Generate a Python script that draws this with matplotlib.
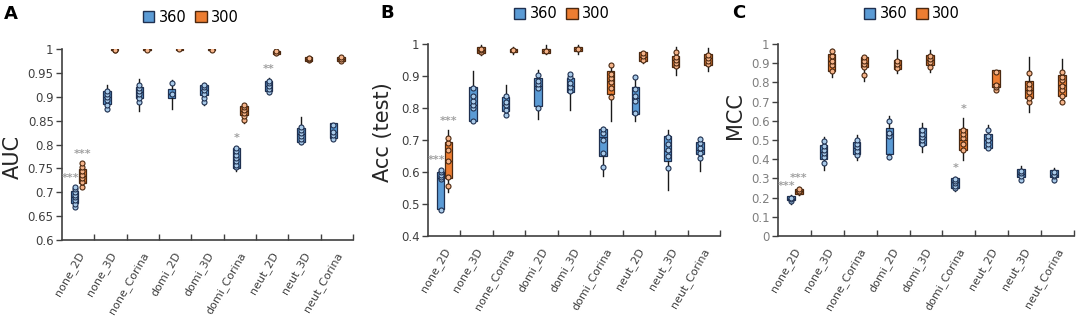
import numpy as np
import matplotlib
matplotlib.use("Agg")
import matplotlib.pyplot as plt
from matplotlib.patches import Patch

# ── Data ────────────────────────────────────────────────────────────────────
CATEGORIES = ["none_2D", "none_3D", "none_Corina", "domi_2D", "domi_3D",
              "domi_Corina", "neut_2D", "neut_3D", "neut_Corina"]
GROUPS = ["360", "300"]

# box summaries: (whisker low, q1, median, q3, whisker high)
auc_360_stats = [(0.668, 0.678, 0.690, 0.703, 0.712), (0.871, 0.885, 0.900, 0.913, 0.925),
                 (0.871, 0.897, 0.910, 0.921, 0.937), (0.874, 0.897, 0.905, 0.916, 0.935),
                 (0.883, 0.904, 0.914, 0.925, 0.929), (0.745, 0.751, 0.770, 0.792, 0.795),
                 (0.906, 0.911, 0.922, 0.934, 0.940), (0.801, 0.806, 0.822, 0.835, 0.858),
                 (0.809, 0.814, 0.826, 0.844, 0.846)]
auc_300_stats = [(0.710, 0.720, 0.735, 0.748, 0.762), (0.996, 0.997, 0.998, 0.999, 1.000),
                 (0.996, 0.997, 0.998, 0.999, 1.000), (0.998, 0.9985, 0.999, 0.9995, 1.000),
                 (0.996, 0.997, 0.998, 0.999, 1.000), (0.846, 0.862, 0.870, 0.881, 0.884),
                 (0.988, 0.990, 0.993, 0.996, 0.997), (0.973, 0.975, 0.979, 0.983, 0.985),
                 (0.973, 0.975, 0.979, 0.983, 0.985)]
auc_360_pts = [[0.670, 0.676, 0.683, 0.690, 0.694, 0.700, 0.706, 0.712],
               [0.875, 0.882, 0.893, 0.900, 0.905, 0.912],
               [0.888, 0.897, 0.905, 0.912, 0.918, 0.925],
               [0.905, 0.928],
               [0.890, 0.898, 0.906, 0.914, 0.920, 0.925],
               [0.752, 0.758, 0.765, 0.772, 0.779, 0.786, 0.792],
               [0.910, 0.916, 0.922, 0.928, 0.934],
               [0.805, 0.812, 0.818, 0.824, 0.830, 0.836],
               [0.812, 0.820, 0.826, 0.840]]
auc_300_pts = [[0.712, 0.722, 0.730, 0.737, 0.744, 0.752, 0.762],
               [0.997, 0.998], [0.998], [0.999], [0.998],
               [0.852, 0.860, 0.866, 0.872, 0.878, 0.882],
               [0.992, 0.995], [0.976, 0.979, 0.982], [0.975, 0.979, 0.983]]

acc_360_stats = [(0.479, 0.485, 0.580, 0.601, 0.610), (0.758, 0.758, 0.810, 0.865, 0.917),
                 (0.776, 0.790, 0.810, 0.833, 0.872), (0.766, 0.805, 0.870, 0.894, 0.920),
                 (0.793, 0.850, 0.870, 0.894, 0.909), (0.586, 0.651, 0.710, 0.735, 0.742),
                 (0.758, 0.782, 0.830, 0.867, 0.899), (0.544, 0.633, 0.665, 0.711, 0.730),
                 (0.604, 0.656, 0.670, 0.693, 0.708)]
acc_300_stats = [(0.538, 0.582, 0.635, 0.695, 0.730), (0.967, 0.973, 0.980, 0.990, 0.998),
                 (0.970, 0.975, 0.980, 0.985, 0.990), (0.968, 0.972, 0.978, 0.985, 0.998),
                 (0.970, 0.977, 0.985, 0.992, 0.998), (0.758, 0.843, 0.885, 0.916, 0.937),
                 (0.940, 0.946, 0.960, 0.975, 0.975), (0.904, 0.928, 0.950, 0.964, 0.990),
                 (0.916, 0.933, 0.955, 0.970, 0.987)]
acc_360_pts = [[0.482, 0.578, 0.585, 0.592, 0.600, 0.606],
               [0.760, 0.800, 0.810, 0.822, 0.838, 0.862],
               [0.778, 0.795, 0.808, 0.820, 0.838],
               [0.800, 0.862, 0.875, 0.885, 0.902],
               [0.852, 0.865, 0.878, 0.896, 0.905],
               [0.617, 0.660, 0.700, 0.722, 0.735],
               [0.785, 0.822, 0.838, 0.858, 0.896],
               [0.614, 0.650, 0.668, 0.688, 0.710],
               [0.645, 0.660, 0.675, 0.690, 0.704]]
acc_300_pts = [[0.555, 0.585, 0.635, 0.668, 0.690, 0.706],
               [0.975, 0.980, 0.985], [0.980], [0.978], [0.985],
               [0.835, 0.862, 0.880, 0.895, 0.905, 0.935],
               [0.950, 0.962, 0.972],
               [0.930, 0.940, 0.950, 0.960, 0.975],
               [0.938, 0.948, 0.955, 0.965]]

mcc_360_stats = [(0.169, 0.187, 0.195, 0.206, 0.213), (0.343, 0.401, 0.440, 0.474, 0.517),
                 (0.395, 0.425, 0.460, 0.491, 0.526), (0.401, 0.425, 0.530, 0.564, 0.627),
                 (0.439, 0.474, 0.515, 0.564, 0.587), (0.234, 0.248, 0.280, 0.303, 0.308),
                 (0.451, 0.457, 0.500, 0.531, 0.578), (0.286, 0.308, 0.325, 0.347, 0.366),
                 (0.282, 0.305, 0.320, 0.343, 0.352)]
mcc_300_stats = [(0.216, 0.221, 0.235, 0.247, 0.253), (0.826, 0.860, 0.910, 0.948, 0.975),
                 (0.808, 0.878, 0.900, 0.930, 0.940), (0.848, 0.871, 0.890, 0.918, 0.970),
                 (0.854, 0.892, 0.915, 0.944, 0.970), (0.396, 0.448, 0.500, 0.556, 0.617),
                 (0.756, 0.778, 0.790, 0.862, 0.866), (0.648, 0.718, 0.760, 0.808, 0.930),
                 (0.704, 0.730, 0.785, 0.836, 0.923)]
mcc_360_pts = [[0.180, 0.192, 0.200],
               [0.380, 0.410, 0.430, 0.450, 0.470, 0.495],
               [0.420, 0.445, 0.465, 0.480, 0.500],
               [0.410, 0.520, 0.535, 0.600],
               [0.480, 0.500, 0.515, 0.530, 0.550],
               [0.250, 0.262, 0.275, 0.288, 0.298],
               [0.460, 0.480, 0.500, 0.520, 0.550],
               [0.290, 0.315, 0.330, 0.340],
               [0.290, 0.310, 0.320, 0.335]]
mcc_300_pts = [[0.228, 0.236, 0.243],
               [0.860, 0.890, 0.910, 0.940, 0.965],
               [0.840, 0.880, 0.895, 0.910, 0.930],
               [0.875, 0.895, 0.910],
               [0.880, 0.905, 0.920, 0.940],
               [0.450, 0.480, 0.510, 0.530, 0.550],
               [0.760, 0.775, 0.785, 0.855],
               [0.700, 0.720, 0.750, 0.770, 0.790, 0.850],
               [0.700, 0.730, 0.760, 0.780, 0.810, 0.830, 0.855]]

# significance marks: (category index, group, label)
auc_stars = [(0, "360", "***"), (0, "300", "***"), (5, "360", "*"), (6, "360", "**")]
acc_stars = [(0, "360", "***"), (0, "300", "***")]
mcc_stars = [(0, "360", "***"), (0, "300", "***"), (5, "360", "*"), (5, "300", "*")]

# ── Style ───────────────────────────────────────────────────────────────────
C_BLUE = "#5B9BD5"
C_ORANGE = "#ED7D31"
C_BLUE_PT = "#A9CBEA"
C_ORANGE_PT = "#F6B48A"
C_EDGE_B = "#1F3050"
C_EDGE_O = "#4A2810"
C_AXIS = "#404040"
C_STAR = "#A0A0A0"

POS = {"360": 0.39, "300": 0.63}
WIDTH = 0.23


def _stats(rows):
    return [dict(whislo=r[0], q1=r[1], med=r[2], q3=r[3], whishi=r[4], fliers=[]) for r in rows]


def draw_panel(ax, stats, pts, ylim, yticks, ylabel, stars, tick_color, label_xy):
    for grp, fc, ec, pfc in (("360", C_BLUE, C_EDGE_B, C_BLUE_PT),
                             ("300", C_ORANGE, C_EDGE_O, C_ORANGE_PT)):
        pos = np.arange(len(CATEGORIES)) + POS[grp]
        ax.bxp(_stats(stats[grp]), positions=pos, widths=WIDTH, patch_artist=True,
               showcaps=False, showfliers=False, manage_ticks=False,
               boxprops=dict(facecolor=fc, edgecolor=ec, linewidth=0.9),
               medianprops=dict(color=ec, linewidth=0.9),
               whiskerprops=dict(color="#1a1a1a", linewidth=1.0), zorder=2)
        for x, p in zip(pos, pts[grp]):
            ax.plot(np.full(len(p), x), p, "o", ms=3.6, mfc=pfc, mec=ec, mew=0.8, zorder=3)

    for i, grp, lab in stars:
        x = i + POS[grp]
        top = stats[grp][i][4]
        dx = -4 if grp == "360" and lab == "***" else 0
        ax.annotate(lab, (x, top), xytext=(dx, 9), textcoords="offset pixels",
                    ha="center", va="center", fontsize=8, color=C_STAR, fontweight="bold")

    ax.set_xlim(0, len(CATEGORIES))
    ax.set_ylim(*ylim)
    ax.set_yticks(yticks)
    ax.set_yticklabels([f"{v:g}" for v in yticks])
    ax.set_xticks(np.arange(len(CATEGORIES)) + 0.6)
    ax.set_xticklabels(CATEGORIES, rotation=60, ha="right", va="center",
                       rotation_mode="anchor", fontsize=8, color="#404040")
    ax.set_xticks(np.arange(1, len(CATEGORIES) + 1), minor=True)
    ax.tick_params(axis="x", which="major", length=0, pad=9)
    ax.tick_params(axis="x", which="minor", direction="in", length=4, color=C_AXIS, width=1)
    ax.tick_params(axis="y", direction="out", length=4, color=C_AXIS, width=1,
                   labelsize=8.5, labelcolor=tick_color, pad=2)
    for s in ("top", "right"):
        ax.spines[s].set_visible(False)
    for s in ("left", "bottom"):
        ax.spines[s].set_color(C_AXIS)
        ax.spines[s].set_linewidth(1.2)
    ax.set_ylabel(ylabel, fontsize=15, color="#262626")
    ax.yaxis.set_label_coords(*label_xy)


fig = plt.figure(figsize=(10.84, 3.19), dpi=100)
W, H = 1084, 319

panels = [
    dict(box=(62, 240, 353, 49), stats={"360": auc_360_stats, "300": auc_300_stats},
         pts={"360": auc_360_pts, "300": auc_300_pts}, ylim=(0.6, 1.0),
         yticks=[0.6, 0.65, 0.7, 0.75, 0.8, 0.85, 0.9, 0.95, 1.0], ylabel="AUC",
         stars=auc_stars, tick_color="#404040", label_xy=(-0.134, 0.435),
         letter="A", letter_xy=(11, 14), legend_xy=(191, 17)),
    dict(box=(428, 236, 720, 44), stats={"360": acc_360_stats, "300": acc_300_stats},
         pts={"360": acc_360_pts, "300": acc_300_pts}, ylim=(0.4, 1.0),
         yticks=[0.4, 0.5, 0.6, 0.7, 0.8, 0.9, 1.0], ylabel="Acc (test)",
         stars=acc_stars, tick_color="#404040", label_xy=(-0.12, 0.54),
         letter="B", letter_xy=(387, 13), legend_xy=(562, 14)),
    dict(box=(778, 236, 1074, 44), stats={"360": mcc_360_stats, "300": mcc_300_stats},
         pts={"360": mcc_360_pts, "300": mcc_300_pts}, ylim=(0.0, 1.0),
         yticks=[0, 0.1, 0.2, 0.3, 0.4, 0.5, 0.6, 0.7, 0.8, 0.9, 1.0], ylabel="MCC",
         stars=mcc_stars, tick_color="#7F7F7F", label_xy=(-0.111, 0.625),
         letter="C", letter_xy=(739, 13), legend_xy=(912, 14)),
]

handles = [Patch(facecolor=C_BLUE, edgecolor=C_EDGE_B, label="360"),
           Patch(facecolor=C_ORANGE, edgecolor=C_EDGE_O, label="300")]

for p in panels:
    l, b, r, t = p["box"]
    ax = fig.add_axes([l / W, 1 - b / H, (r - l) / W, (b - t) / H])
    draw_panel(ax, p["stats"], p["pts"], p["ylim"], p["yticks"], p["ylabel"],
               p["stars"], p["tick_color"], p["label_xy"])
    fig.text(p["letter_xy"][0] / W, 1 - p["letter_xy"][1] / H, p["letter"],
             fontsize=13, fontweight="bold", ha="center", va="center")
    fig.legend(handles=handles, loc="center", ncol=2, frameon=False, fontsize=10.5,
               bbox_to_anchor=(p["legend_xy"][0] / W, 1 - p["legend_xy"][1] / H),
               handlelength=0.8, handleheight=0.8, handletextpad=0.3, columnspacing=0.6)

fig.savefig("out.png", dpi=100, facecolor="white")
